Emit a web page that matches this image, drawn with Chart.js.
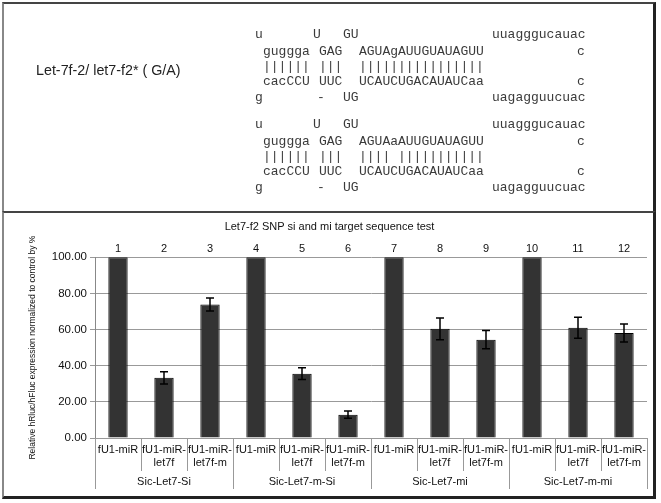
<!DOCTYPE html>
<html>
<head>
<meta charset="utf-8">
<script src="https://cdn.jsdelivr.net/npm/chart.js@4.4.1/dist/chart.umd.min.js"></script>
<style>
  body { margin: 0; background: #fff; width: 661px; height: 503px; position: relative; overflow: hidden; }
  #top { position: absolute; left: 2px; top: 2px; width: 649px; height: 208px;
         border-top: 2px solid #444; border-left: 2px solid #888; border-right: 3px solid #222; }
  #panel { position: absolute; left: 2px; top: 211px; width: 649px; height: 283px;
           border-top: 2px solid #444; border-left: 2px solid #888; border-right: 3px solid #222; border-bottom: 3px solid #222; }
  #name { position: absolute; left: 36px; top: 62px; font: 14.3px 'Liberation Sans', Arial, sans-serif; color: #222; white-space: pre; filter: grayscale(100%); }
  #seq { position: absolute; left: 0; top: 0; width: 661px; height: 210px; filter: grayscale(100%); }
  .s { position: absolute; font: 13px 'Liberation Mono', 'Courier New', monospace; line-height: 13px; color: #3a3a3a; white-space: pre; }
  canvas { position: absolute; left: 0; top: 0; }
</style>
</head>
<body>
<div id="top"></div>
<div id="panel"></div>
<div id="name">Let-7f-2/ let7-f2* ( G/A)</div>
<div id="seq"></div>
<canvas id="chart" width="661" height="503"></canvas>
<script>
'use strict';

// chart data
const numbers = ['1', '2', '3', '4', '5', '6', '7', '8', '9', '10', '11', '12'];
const samples = [
  'fU1-miR', ['fU1-miR-', 'let7f'], ['fU1-miR-', 'let7f-m'],
  'fU1-miR', ['fU1-miR-', 'let7f'], ['fU1-miR-', 'let7f-m'],
  'fU1-miR', ['fU1-miR-', 'let7f'], ['fU1-miR-', 'let7f-m'],
  'fU1-miR', ['fU1-miR-', 'let7f'], ['fU1-miR-', 'let7f-m']
];
const groups = ['Sic-Let7-Si', 'Sic-Let7-m-Si', 'Sic-Let7-mi', 'Sic-Let7-m-mi'];
const values = [100, 33.3, 73.8, 100, 35.6, 12.9, 100, 60.4, 54.4, 100, 61.0, 58.1];
const errors = [0, 3.4, 3.6, 0, 3.2, 2.0, 0, 6.0, 5.0, 0, 5.8, 5.0];

// the two hairpin drawings of the top panel: [text, x, row]
const seqTokens = [
  ['u', 255, 0], ['U', 313, 0], ['GU', 343, 0], ['uuagggucauac', 492, 0],
  ['guggga', 263, 1], ['GAG', 319, 1], ['AGUAgAUUGUAUAGUU', 359, 1], ['c', 577, 1],
  ['||||||', 263, 2], ['|||', 319, 2], ['||||||||||||||||', 359, 2],
  ['cacCCU', 263, 3], ['UUC', 319, 3], ['UCAUCUGACAUAUCaa', 359, 3], ['c', 577, 3],
  ['g', 255, 4], ['-', 317, 4], ['UG', 343, 4], ['uagagguucuac', 492, 4],

  ['u', 255, 5], ['U', 313, 5], ['GU', 343, 5], ['uuagggucauac', 492, 5],
  ['guggga', 263, 6], ['GAG', 319, 6], ['AGUAaAUUGUAUAGUU', 359, 6], ['c', 577, 6],
  ['||||||', 263, 7], ['|||', 319, 7], ['|||| |||||||||||', 359, 7],
  ['cacCCU', 263, 8], ['UUC', 319, 8], ['UCAUCUGACAUAUCaa', 359, 8], ['c', 577, 8],
  ['g', 255, 9], ['-', 317, 9], ['UG', 343, 9], ['uagagguucuac', 492, 9]
];
const rowY = [35, 52, 67, 82, 98, 125, 142, 157, 172, 188];

let seqBox = document.getElementById('seq');
for (let i = 0; i < seqTokens.length; i++) {
  let t = seqTokens[i];
  let span = document.createElement('div');
  span.className = 's';
  span.textContent = t[0];
  span.style.left = t[1] + 'px';
  span.style.top = (rowY[t[2]] - 7) + 'px';
  seqBox.appendChild(span);
}

Chart.defaults.font.family = "'Liberation Sans', Arial, sans-serif";
Chart.defaults.color = '#111';

// error bars drawn on top of the bars
const errorBars = {
  id: 'errorBars',
  afterDatasetsDraw(chart) {
    let ctx = chart.ctx;
    let meta = chart.getDatasetMeta(0);
    let y = chart.scales.y;
    ctx.save();
    ctx.strokeStyle = '#000';
    ctx.lineWidth = 1.5;
    for (let i = 0; i < values.length; i++) {
      if (!errors[i]) continue;
      let x = meta.data[i].x;
      let top = y.getPixelForValue(values[i] + errors[i]);
      let bot = y.getPixelForValue(values[i] - errors[i]);
      ctx.beginPath();
      ctx.moveTo(x, top); ctx.lineTo(x, bot);
      ctx.moveTo(x - 4, top); ctx.lineTo(x + 4, top);
      ctx.moveTo(x - 4, bot); ctx.lineTo(x + 4, bot);
      ctx.stroke();
    }
    ctx.restore();
  }
};

// category / group separators under the x axis
const separators = {
  id: 'separators',
  afterDraw(chart) {
    let ctx = chart.ctx;
    let xs = chart.scales.x;
    let bottom = chart.chartArea.bottom;
    let half = (xs.getPixelForValue(1) - xs.getPixelForValue(0)) / 2;
    ctx.save();
    ctx.strokeStyle = '#999';
    ctx.lineWidth = 1;
    for (let k = 0; k <= numbers.length; k++) {
      let bx = Math.round(xs.getPixelForValue(0) - half + k * 2 * half) + 0.5;
      let len = (k % 3 === 0) ? 51 : 33;
      ctx.beginPath();
      ctx.moveTo(bx, bottom);
      ctx.lineTo(bx, bottom + len);
      ctx.stroke();
    }
    ctx.restore();
  }
};

new Chart(document.getElementById('chart'), {
  type: 'bar',
  data: {
    labels: samples,
    datasets: [{
      data: values,
      backgroundColor: '#333333',
      borderColor: '#000',
      borderWidth: 1,
      categoryPercentage: 1,
      barPercentage: 0.42
    }]
  },
  options: {
    responsive: false,
    animation: false,
    layout: { padding: { left: 12, right: 14, top: 218, bottom: 8 } },
    plugins: {
      legend: { display: false },
      tooltip: { enabled: false },
      title: {
        display: true,
        text: 'Let7-f2 SNP si and mi target sequence test',
        font: { size: 11, weight: 'normal' },
        color: '#111',
        padding: { top: 2, bottom: 4 }
      }
    },
    scales: {
      x: {
        type: 'category',
        position: 'bottom',
        offset: true,
        grid: { display: false, drawTicks: false },
        border: { display: false },
        ticks: { font: { size: 11 }, padding: 5, maxRotation: 0, autoSkip: false },
        afterFit: (s) => { s.height = 34; }
      },
      groups: {
        type: 'category',
        position: 'bottom',
        labels: groups,
        offset: true,
        grid: { display: false, drawTicks: false },
        border: { display: false },
        ticks: { font: { size: 11 }, padding: 3, maxRotation: 0, autoSkip: false },
        afterFit: (s) => { s.height = 23; }
      },
      num: {
        type: 'category',
        position: 'top',
        labels: numbers,
        offset: true,
        grid: { display: false, drawTicks: false },
        border: { display: false },
        ticks: { font: { size: 11 }, padding: 2, maxRotation: 0, autoSkip: false },
        afterFit: (s) => { s.height = 20; }
      },
      y: {
        min: 0,
        max: 100,
        ticks: {
          stepSize: 20,
          font: { size: 11.5 },
          padding: 3,
          callback: (v) => v.toFixed(2)
        },
        grid: { color: '#999', tickLength: 5 },
        border: { color: '#888' },
        title: {
          display: true,
          text: 'Relative hRluc/hFluc expression normalized to control by %',
          font: { size: 8.5 },
          padding: { top: 16, bottom: 0 }
        },
        afterFit: (s) => { s.width = 83; }
      }
    }
  },
  plugins: [errorBars, separators]
});
</script>
</body>
</html>
